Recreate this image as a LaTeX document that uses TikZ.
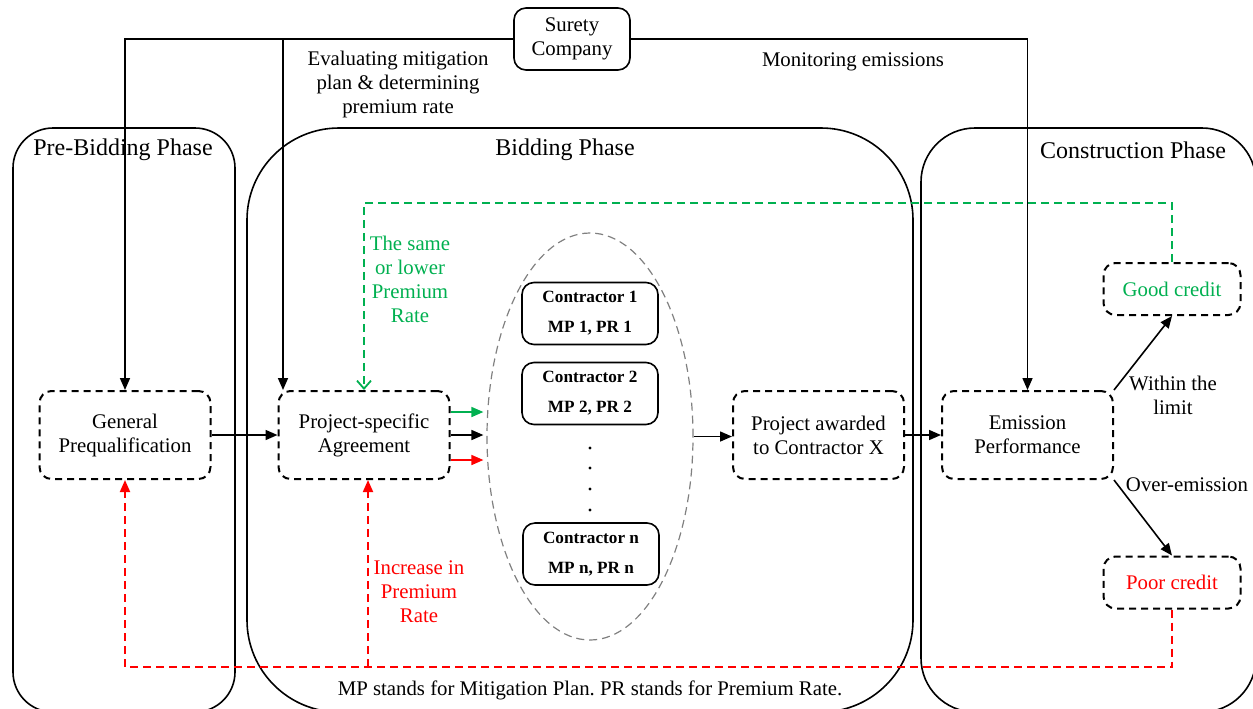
\documentclass[tikz,border=0pt]{standalone}
\usepackage{fontspec}
\setmainfont{Liberation Serif}
\usepackage{xcolor}
\usepackage{tikz}
\usetikzlibrary{shapes.geometric, arrows.meta, positioning, calc}
\definecolor{okgreen}{RGB}{0,176,80}
\frenchspacing

\begin{document}
\begin{tikzpicture}[
    x=0.5pt, y=-0.5pt,
    font=\fontsize{10.4}{12}\selectfont,
    >={Triangle[length=6pt,width=5pt]},
    phase/.style={draw, line width=0.8pt},
    title/.style={font=\fontsize{12}{14}\selectfont},
    stage/.style={rectangle, draw, dash pattern=on 3.5pt off 2.5pt, line width=1pt, rounded corners=6pt, minimum width=85.5pt, minimum height=44pt, align=center},
    credit/.style={stage, minimum width=68.5pt, minimum height=26pt},
    contractor/.style={rectangle, draw, line width=0.8pt, rounded corners=6pt, minimum width=68pt, minimum height=31pt, align=center, font=\fontsize{8.6}{15}\selectfont\bfseries},
    flow/.style={->, line width=0.8pt},
    good/.style={okgreen, dash pattern=on 4pt off 2.5pt, line width=0.9pt},
    poor/.style={red, dash pattern=on 4pt off 2.5pt, line width=0.9pt},
    note/.style={align=center}
]
\useasboundingbox (0,0) rectangle (1253,708);

% Phase frames
\draw[phase, rounded corners=20pt] (13,128) rectangle (235,712);
\draw[phase, rounded corners=46pt] (247,128) rectangle (913,712);
\draw[phase, rounded corners=27pt] (921,128) rectangle (1256,712);
\node[title] (pretitle) at (123,150) {Pre-Bidding Phase};
\node[title] (bidtitle) at (565,150) {Bidding Phase};
\node[title] (contitle) at (1133,150) {Construction Phase};

% Surety company
\node[rectangle, draw, line width=0.8pt, rounded corners=6pt, minimum width=58pt, minimum height=31pt, align=center] (surety) at (572,39) {Surety\\Company};
\node[note] (evalnote) at (398,84) {Evaluating mitigation\\plan \& determining\\premium rate};
\node (monnote) at (853,62) {Monitoring emissions};

% Process steps
\node[stage] (prequal) at (125,435) {General\\Prequalification};
\node[stage] (agree) at (364,435) {Project-specific\\Agreement};
\node[stage] (award) at (818.5,435) {Project awarded\\to Contractor X};
\node[stage] (emission) at (1027.5,435) {Emission\\Performance};
\node[credit, text=okgreen] (goodcr) at (1172,289) {Good credit};
\node[credit, text=red] (poorcr) at (1172,582.5) {Poor credit};

% Bidders
\node[ellipse, draw=gray, line width=0.6pt, dash pattern=on 4pt off 2.5pt, minimum width=103pt, minimum height=203.5pt] (pool) at (590,436.5) {};
\node[contractor] (con1) at (590,313.5) {Contractor 1\\MP 1, PR 1};
\node[contractor] (con2) at (590,393.5) {Contractor 2\\MP 2, PR 2};
\node[contractor] (conn) at (591,554) {Contractor n\\MP n, PR n};
\foreach \y in {448,468,489,510}
    \fill (590,\y) circle (0.8pt);

% Surety links
\coordinate (tapB) at (283,39);
\draw[flow] (surety.west) -| (prequal.north);
\draw[flow] (tapB) -- (tapB |- agree.north);
\draw[flow] (surety.east) -| (emission.north);

% Main flow
\draw[flow] (prequal) -- (agree);
\draw[flow, okgreen] ([yshift=11.5pt]agree.east) -- ([yshift=11.5pt,xshift=-1.5pt]agree.east -| pool.west);
\draw[flow] (agree.east) -- ([xshift=-1.5pt]agree.east -| pool.west);
\draw[flow, red] ([yshift=-12.5pt]agree.east) -- ([yshift=-12.5pt,xshift=-1.5pt]agree.east -| pool.west);
\draw[flow] (pool.east) -- (pool.east -| award.west);
\draw[flow] (award) -- (emission);
\draw[flow] (emission.north east) -- (goodcr.south);
\draw[flow] (emission.south east) -- (poorcr.north);
\node[note] (withinlbl) at (1173,395) {Within the\\limit};
\node (overlbl) at (1187,485) {Over-emission};

% Feedback loops
\coordinate (greentop) at (0,203);
\coordinate (redlow) at (0,667);
\draw[good, -{Straight Barb[length=4pt,width=7pt]}] (goodcr.north) -- (goodcr.north |- greentop) -| (agree.north);
\draw[poor, ->] (poorcr.south) -- (poorcr.south |- redlow) -| (prequal.south);
\draw[poor, ->] ([xshift=2pt]agree.south |- redlow) -- ([xshift=2pt]agree.south);
\node[note, text=okgreen] (samelbl) at (410,279) {The same\\or lower\\Premium\\Rate};
\node[note, text=red] (incrlbl) at (419,592) {Increase in\\Premium\\Rate};

\node (footnote) at (590,690) {MP stands for Mitigation Plan. PR stands for Premium Rate.};
\end{tikzpicture}
\end{document}
